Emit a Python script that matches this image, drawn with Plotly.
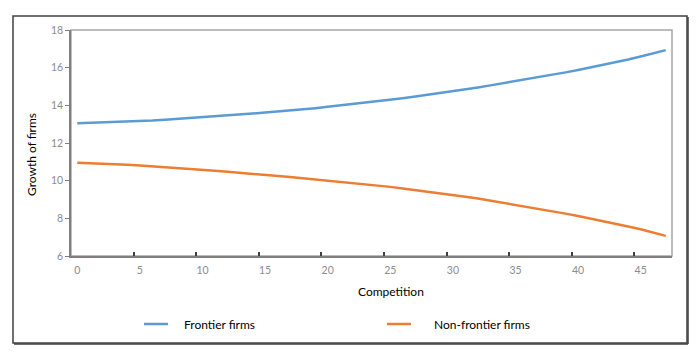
import plotly.graph_objects as go

competition = list(range(48))
frontier = [13.05, 13.07, 13.09, 13.11, 13.14, 13.17, 13.20, 13.24, 13.28, 13.32,
            13.36, 13.41, 13.46, 13.51, 13.56, 13.62, 13.67, 13.73, 13.79, 13.85,
            13.92, 13.99, 14.06, 14.14, 14.22, 14.30, 14.38, 14.47, 14.56, 14.65,
            14.75, 14.85, 14.95, 15.06, 15.17, 15.28, 15.39, 15.51, 15.63, 15.75,
            15.88, 16.01, 16.14, 16.28, 16.43, 16.59, 16.76, 16.93]
non_frontier = [10.95, 10.93, 10.91, 10.88, 10.85, 10.81, 10.77, 10.73, 10.68, 10.63,
                10.58, 10.53, 10.47, 10.42, 10.36, 10.30, 10.25, 10.19, 10.13, 10.07,
                10.01, 9.95, 9.88, 9.81, 9.74, 9.67, 9.59, 9.51, 9.43, 9.34,
                9.25, 9.15, 9.05, 8.94, 8.83, 8.72, 8.61, 8.49, 8.37, 8.25,
                8.12, 7.99, 7.86, 7.72, 7.57, 7.42, 7.25, 7.07]
series_names = ["Frontier firms", "Non-frontier firms"]
series_colors = ["#5b9bd5", "#ed7d31"]
x_tick_vals = [0, 5, 10, 15, 20, 25, 30, 35, 40, 45]
y_tick_vals = [6, 8, 10, 12, 14, 16, 18]
x_title = "Competition"
y_title = "Growth of firms"

FONT = "Lato, 'Open Sans', sans-serif"

# the page body has an 8px margin; work in window pixels and shift
OFF = 8
W, H = 692, 353
ML = 71 - OFF
MT = 30 - OFF
MR = W - (672 - OFF)
MB = H - (256 - OFF)
pw = W - ML - MR
ph = H - MT - MB

def px_x(p):
    return (p - OFF - ML) / pw

def px_y(p):
    return (H - MB - (p - OFF)) / ph

fig = go.Figure()
for name, ys, col in zip(series_names, [frontier, non_frontier], series_colors):
    fig.add_trace(go.Scatter(x=competition, y=ys, mode="lines", name=name,
                             line=dict(color=col, width=2.5), showlegend=False))

fig.update_layout(
    width=W, height=H,
    margin=dict(l=ML, r=MR, t=MT, b=MB, autoexpand=False),
    paper_bgcolor="white", plot_bgcolor="white",
    font=dict(family=FONT, color="#000000"),
    showlegend=False,
    xaxis=dict(range=[-0.5, 47.5], tickvals=x_tick_vals, ticks="", showgrid=False,
               zeroline=False, showline=True, linecolor="#7f7f7f", linewidth=1.5,
               automargin=False, ticklabelstandoff=4,
               tickfont=dict(size=10.5, color="#8c8c8c", family=FONT),
               minor=dict(tickvals=[v - 0.5 for v in x_tick_vals if v > 0], ticks="inside",
                          ticklen=4, tickcolor="#404040", tickwidth=1.5)),
    yaxis=dict(range=[6, 18], tickvals=y_tick_vals, ticks="outside", ticklen=4,
               tickcolor="#7f7f7f", showgrid=False, zeroline=False, showline=True,
               linecolor="#7f7f7f", linewidth=1.5, automargin=False,
               tickfont=dict(size=10.5, color="#8c8c8c", family=FONT)),
)

# axis titles placed where the original has them
fig.add_annotation(xref="paper", yref="paper", x=px_x(391), y=px_y(291), text=x_title,
                   showarrow=False, xanchor="center", yanchor="middle",
                   font=dict(size=12, color="#000000", family=FONT))
fig.add_annotation(xref="paper", yref="paper", x=px_x(31), y=px_y(155), text=y_title,
                   showarrow=False, xanchor="center", yanchor="middle", textangle=-90,
                   font=dict(size=12, color="#000000", family=FONT))

# light plot-area border (top/right)
fig.add_shape(type="rect", xref="paper", yref="paper", x0=0, y0=0, x1=1, y1=1,
              line=dict(color="#a6a6a6", width=1.5), layer="below")
# outer frame
fig.add_shape(type="rect", xref="paper", yref="paper",
              x0=px_x(13), y0=px_y(343), x1=px_x(687), y1=px_y(16),
              line=dict(color="#404040", width=1.5), layer="below")
fig.add_shape(type="line", xref="paper", yref="paper",
              x0=px_x(688), y0=px_y(17), x1=px_x(688), y1=px_y(344),
              line=dict(color="#404040", width=1.5), layer="below")
fig.add_shape(type="line", xref="paper", yref="paper",
              x0=px_x(14), y0=px_y(344), x1=px_x(688), y1=px_y(344),
              line=dict(color="#404040", width=1.5), layer="below")

# legend (drawn manually to place it like the original)
legend_sample_x = [144, 387]
legend_text_x = [182, 432]
legend_y = 324
for name, col, sx, tx in zip(series_names, series_colors, legend_sample_x, legend_text_x):
    fig.add_shape(type="line", xref="paper", yref="paper",
                  x0=px_x(sx), x1=px_x(sx + 24), y0=px_y(legend_y), y1=px_y(legend_y),
                  line=dict(color=col, width=2.5))
    fig.add_annotation(xref="paper", yref="paper", x=px_x(tx), y=px_y(legend_y),
                       text=name, showarrow=False, xanchor="left", yanchor="middle",
                       font=dict(size=12, color="#000000", family=FONT))

fig.write_html("out.html")
